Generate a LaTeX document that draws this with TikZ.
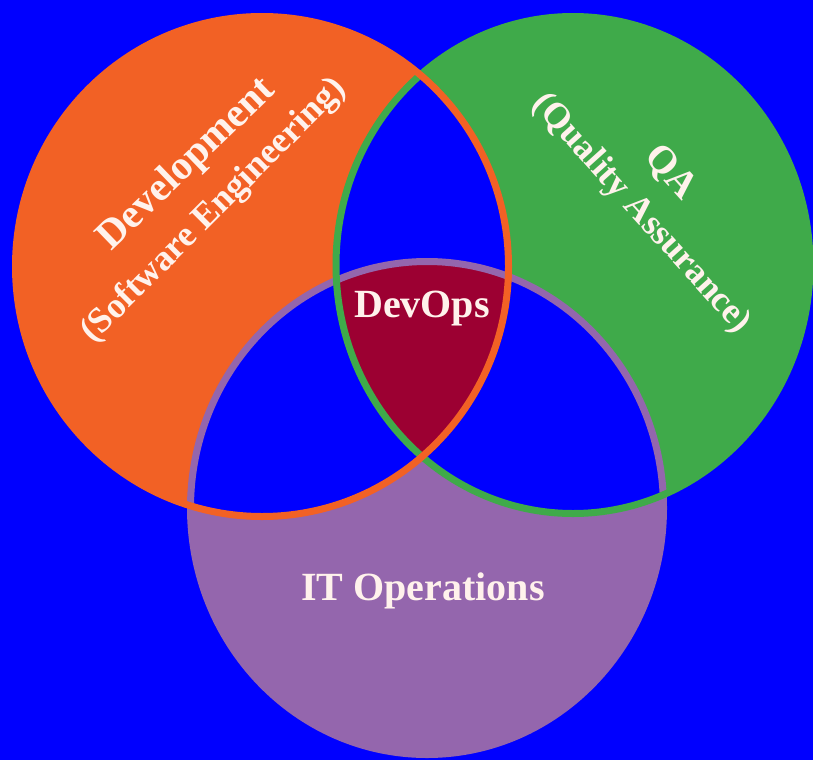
\documentclass[tikz,border=0pt]{standalone}
\usepackage{fontspec}
\setmainfont{Liberation Serif}
\definecolor{bgblue}{HTML}{0000FF}
\definecolor{devorange}{HTML}{F26125}
\definecolor{qagreen}{HTML}{3FAA4A}
\definecolor{opspurple}{HTML}{9466AD}
\definecolor{coreRed}{HTML}{9C0032}
\definecolor{labelcol}{HTML}{FFF2EC}
\begin{document}
\begin{tikzpicture}[x=1pt,y=-1pt,
  rim/.style={line width=7pt},
  lbl/.style={text=labelcol,font=\bfseries\fontsize{#1}{#1}\selectfont,inner sep=0pt},
  lbl/.default=38]
\def\orangepath{(262,266.5) ellipse [x radius=246.5pt, y radius=250pt]}
\def\greenpath{(573,265) ellipse [x radius=237pt, y radius=248.5pt]}
\def\purplepath{(427,508) ellipse [x radius=236.5pt, y radius=246.5pt]}
\fill[bgblue] (0,0) rectangle (813,760);
\useasboundingbox (0,0) rectangle (813,760);
% fills
\fill[devorange] \orangepath;
\fill[qagreen] \greenpath;
\fill[opspurple] \purplepath;
% pairwise overlaps in blue
\begin{scope}
  \clip \orangepath;
  \fill[bgblue] \greenpath;
  \fill[bgblue] \purplepath;
\end{scope}
\begin{scope}
  \clip \greenpath;
  \fill[bgblue] \purplepath;
\end{scope}
% triple overlap
\begin{scope}
  \clip \orangepath;
  \clip \greenpath;
  \fill[coreRed] \purplepath;
\end{scope}
% outlines
\draw[rim,opspurple] \purplepath;
\draw[rim,qagreen] \greenpath;
\draw[rim,devorange] \orangepath;
% labels
\node[lbl=41,rotate=44] (dev) at (187,165) {Development};
\node[lbl=36,rotate=45] (soft) at (214,211) {(Software Engineering)};
\node[lbl=39,rotate=-48] (qa) at (670,173) {QA};
\node[lbl=36,rotate=-48] (qual) at (641,214) {(Quality Assurance)};
\node[lbl=40,anchor=base] (devops) at (422,317) {DevOps};
\node[lbl=40,anchor=base] (itops) at (423,600) {IT Operations};
\end{tikzpicture}
\end{document}
